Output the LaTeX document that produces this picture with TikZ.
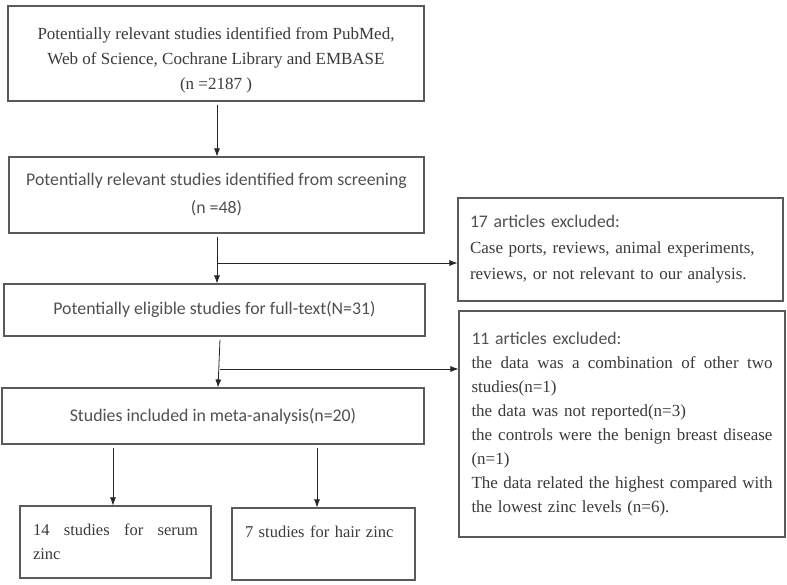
\documentclass[tikz,border=0pt]{standalone}
\usepackage{fontspec}
\setmainfont{Liberation Serif}
\newfontfamily\calfont{Carlito}
\usetikzlibrary{arrows.meta}
\definecolor{linec}{HTML}{5A5A5A}
\definecolor{txtc}{HTML}{3A3A3A}
\definecolor{sanc}{HTML}{505050}
\newcommand{\jline}[2]{\leavevmode\hbox to #1{#2}}
\begin{document}
\begin{tikzpicture}[x=1pt,y=-1pt,
  box/.style={draw=linec, line width=1.1pt, inner sep=0pt, text=txtc},
  sans/.style={font=\calfont\fontsize{17.8}{28}\selectfont, text=sanc},
  arr/.style={-{Latex[length=8pt,width=6pt]}, draw=black!85, line width=0.8pt}]
\useasboundingbox (0,0) rectangle (787,585);
\fill[white] (0,0) rectangle (787,585);

\node[box, minimum width=416pt, minimum height=95pt] (b1) at (216,53.5) {};
\node[align=center, text=txtc, font=\fontsize{17}{25}\selectfont] (b1t) at (216,60)
  {Potentially relevant studies identified from PubMed,\\Web of Science, Cochrane Library and EMBASE\\(n =2187 )};
\node[box, sans, align=center, minimum width=415pt, minimum height=76pt] (b2) at (216.5,195)
  {Potentially relevant studies identified from screening\\(n =48)};
\node[box, minimum width=325pt, minimum height=103pt, align=left, text width=301pt,
  font=\fontsize{17}{26}\selectfont] (b3) at (620.5,249.5)
  {{\calfont\fontsize{17.7}{26}\selectfont\color{sanc}17 articles excluded:}\\Case ports, reviews, animal experiments,\\reviews, or not relevant to our analysis.};
\node[box, sans, align=center, minimum width=421pt, minimum height=52pt] (b4) at (214.5,310)
  {Potentially eligible studies for full-text(N=31)};
\node[box, minimum width=326pt, minimum height=226pt, align=left, text width=301pt,
  font=\fontsize{17}{24}\selectfont] (b5) at (622,424)
  {{\calfont\fontsize{17.7}{24}\selectfont\color{sanc}11 articles excluded:}\\
   \jline{301pt}{the\hfill data\hfill was\hfill a\hfill combination\hfill of\hfill other\hfill two}\\
   studies(n=1)\\
   the data was not reported(n=3)\\
   \jline{301pt}{the\hfill controls\hfill were\hfill the\hfill benign\hfill breast\hfill disease}\\
   (n=1)\\
   \jline{301pt}{The\hfill data\hfill related\hfill the\hfill highest\hfill compared\hfill with}\\
   the lowest zinc levels (n=6).};
\node[box, sans, align=center, minimum width=422pt, minimum height=56pt] (b6) at (213,416)
  {Studies included in meta-analysis(n=20)};
\node[box, minimum width=191pt, minimum height=72pt, align=left, text width=165pt,
  font=\fontsize{16.5}{24}\selectfont] (b7) at (115.5,542)
  {\jline{165pt}{14\hfill studies\hfill for\hfill serum}\\zinc};
\node[box, minimum width=183pt, minimum height=72pt, align=left, text width=157pt,
  font=\fontsize{16.5}{24}\selectfont] (b8) at (323.5,544)
  {7 studies for hair zinc\\\mbox{}};

\coordinate (c1) at (217,0);
\coordinate (c3a) at (220,0);
\coordinate (c3b) at (218,0);
\coordinate (c4) at (113,0);
\coordinate (c5) at (317,0);
\coordinate (br1) at (217,263);
\coordinate (br2) at (219.5,369);

\draw[arr] ([yshift=-3pt]b1.south -| c1) -- (b2.north -| c1);
\draw[arr] ([yshift=-3pt]b2.south -| c1) -- (b4.north -| c1);
\draw[arr] (br1) -- (b3.west |- br1);
\draw[arr] ([yshift=-3pt]b4.south -| c3a) -- (b6.north -| c3b);
\draw[arr] (br2) -- (b5.west |- br2);
\draw[arr] ([yshift=-3pt]b6.south -| c4) -- (b7.north -| c4);
\draw[arr] ([yshift=-3pt]b6.south -| c5) -- (b8.north -| c5);
\end{tikzpicture}
\end{document}
